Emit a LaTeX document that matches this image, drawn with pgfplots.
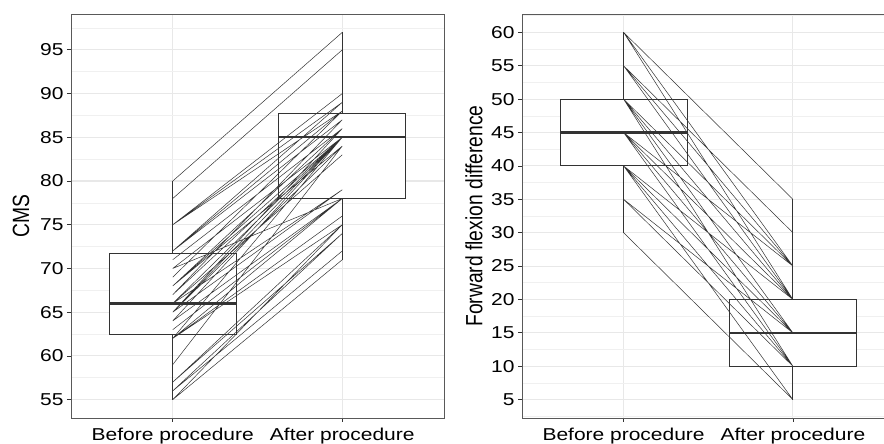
\documentclass[border=0pt]{standalone}
\usepackage{pgfplots}
\pgfplotsset{compat=1.18}
\usepgfplotslibrary{statistics}
\usepackage{fontspec}
\setmainfont{Liberation Sans}[FakeStretch=1.22]
\newfontfamily\titlefont{Liberation Sans}[FakeStretch=0.82]

\pgfplotsset{
  panel/.style={
    scale only axis, height=404pt,
    anchor=south west,
    xmin=0.4, xmax=2.6,
    xtick={1,2}, xticklabels={Before procedure, After procedure},
    axis line style={black!65, line width=0.8pt},
    tick style={black!80, line width=0.8pt},
    major tick length=4pt, minor tick length=0pt,
    tick align=outside, tick pos=left,
    grid=both,
    major grid style={black!9, line width=1.1pt},
    minor grid style={black!6, line width=0.6pt},
    tick label style={font=\fontsize{17.2}{20}\selectfont, text=black},
    xticklabel style={yshift=-3pt},
    /pgf/number format/assume math mode=true,
    every axis y label/.style={at={(axis description cs:0,0.5)}, rotate=90, anchor=center,
      font=\titlefont\fontsize{23.5}{26}\selectfont, text=black},
    boxplot/draw direction=y,
  },
  bx/.style={draw=black!80, line width=1pt, boxplot/every box/.style={fill=white},
    boxplot/every median/.style={line width=2.4pt}},
  bxtop/.style={draw=black!80, line width=1pt, boxplot/every box/.style={fill=none},
    boxplot/every median/.style={line width=2.4pt}},
  pair/.style={black!80, line width=0.5pt, unbounded coords=jump, mark=none},
}

\begin{document}
\begin{tikzpicture}
% ---------------- Left panel: CMS ----------------
\begin{axis}[panel, at={(71pt,26pt)}, width=373pt,
  ymin=52.9, ymax=99.1,
  ytick={55,60,...,95}, minor ytick={57.5,62.5,...,97.5},
  ylabel={CMS}, ylabel style={yshift=50pt}]
\addplot[bx, boxplot prepared={draw position=1, lower whisker=55, lower quartile=62.5,
  median=66, upper quartile=71.7, upper whisker=80, box extend=0.75, whisker extend=0}] coordinates {};
\addplot[bx, boxplot prepared={draw position=2, lower whisker=71, lower quartile=78,
  median=85, upper quartile=87.7, upper whisker=97, box extend=0.75, whisker extend=0}] coordinates {};
\addplot[pair] coordinates {
(1,80) (2,97) (1,nan)
(1,78) (2,95) (1,nan)
(1,75) (2,90) (1,nan)
(1,75) (2,89) (1,nan)
(1,75) (2,88) (1,nan)
(1,72) (2,89) (1,nan)
(1,72) (2,88) (1,nan)
(1,72) (2,87) (1,nan)
(1,71) (2,86) (1,nan)
(1,70) (2,85) (1,nan)
(1,69) (2,88) (1,nan)
(1,68) (2,86) (1,nan)
(1,68) (2,85) (1,nan)
(1,68) (2,84) (1,nan)
(1,67) (2,85) (1,nan)
(1,66) (2,85) (1,nan)
(1,66) (2,83) (1,nan)
(1,65) (2,86) (1,nan)
(1,65) (2,85) (1,nan)
(1,65) (2,84) (1,nan)
(1,65) (2,79) (1,nan)
(1,64) (2,78) (1,nan)
(1,62) (2,85) (1,nan)
(1,62) (2,76) (1,nan)
(1,62) (2,78) (1,nan)
(1,62) (2,75) (1,nan)
(1,59) (2,84) (1,nan)
(1,57) (2,75) (1,nan)
(1,56) (2,74) (1,nan)
(1,56) (2,72) (1,nan)
(1,55) (2,71) (1,nan)
(1,55) (2,75) (1,nan)
(1,57) (2,74) (1,nan)
(1,63) (2,78) (1,nan)
(1,66) (2,79) (1,nan)
(1,70) (2,78) (1,nan)
(1,64) (2,85) (1,nan)
(1,67) (2,87)
};
\addplot[bxtop, boxplot prepared={draw position=1, lower whisker=55, lower quartile=62.5,
  median=66, upper quartile=71.7, upper whisker=80, box extend=0.75, whisker extend=0}] coordinates {};
\addplot[bxtop, boxplot prepared={draw position=2, lower whisker=71, lower quartile=78,
  median=85, upper quartile=87.7, upper whisker=97, box extend=0.75, whisker extend=0}] coordinates {};
\end{axis}
% ---------------- Right panel: Forward flexion ----------------
\begin{axis}[panel, at={(522pt,26pt)}, width=372.5pt,
  ymin=2.25, ymax=62.75,
  ytick={5,10,...,60}, minor ytick={2.5,7.5,...,62.5},
  ylabel={Forward flexion difference}, ylabel style={yshift=48pt}]
\addplot[bx, boxplot prepared={draw position=1, lower whisker=30, lower quartile=40,
  median=45, upper quartile=50, upper whisker=60, box extend=0.75, whisker extend=0}] coordinates {};
\addplot[bx, boxplot prepared={draw position=2, lower whisker=5, lower quartile=10,
  median=15, upper quartile=20, upper whisker=35, box extend=0.75, whisker extend=0}] coordinates {};
\addplot[pair] coordinates {
(1,60) (2,35) (1,nan)
(1,60) (2,25) (1,nan)
(1,60) (2,20) (1,nan)
(1,55) (2,30) (1,nan)
(1,55) (2,25) (1,nan)
(1,55) (2,20) (1,nan)
(1,50) (2,25) (1,nan)
(1,50) (2,20) (1,nan)
(1,50) (2,15) (1,nan)
(1,50) (2,15) (1,nan)
(1,50) (2,20) (1,nan)
(1,50) (2,10) (1,nan)
(1,45) (2,25) (1,nan)
(1,45) (2,20) (1,nan)
(1,45) (2,15) (1,nan)
(1,45) (2,15) (1,nan)
(1,45) (2,10) (1,nan)
(1,45) (2,15) (1,nan)
(1,45) (2,20) (1,nan)
(1,40) (2,20) (1,nan)
(1,40) (2,15) (1,nan)
(1,40) (2,15) (1,nan)
(1,40) (2,10) (1,nan)
(1,40) (2,10) (1,nan)
(1,40) (2,5) (1,nan)
(1,40) (2,10) (1,nan)
(1,35) (2,10) (1,nan)
(1,35) (2,15) (1,nan)
(1,35) (2,10) (1,nan)
(1,30) (2,5)
};
\addplot[bxtop, boxplot prepared={draw position=1, lower whisker=30, lower quartile=40,
  median=45, upper quartile=50, upper whisker=60, box extend=0.75, whisker extend=0}] coordinates {};
\addplot[bxtop, boxplot prepared={draw position=2, lower whisker=5, lower quartile=10,
  median=15, upper quartile=20, upper whisker=35, box extend=0.75, whisker extend=0}] coordinates {};
\end{axis}
\pgfresetboundingbox
\useasboundingbox (0,0) rectangle (884pt,444pt);
\end{tikzpicture}
\end{document}
